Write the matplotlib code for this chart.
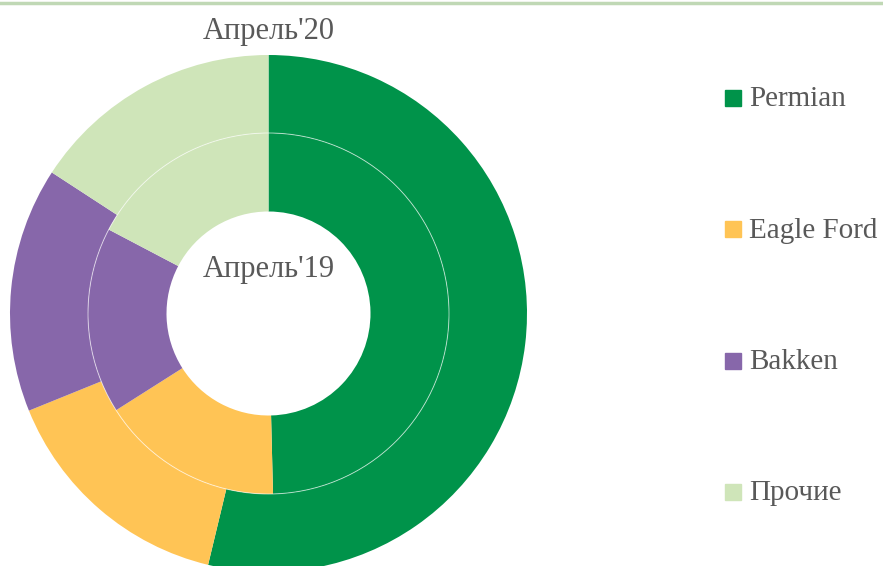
import matplotlib.pyplot as plt
from matplotlib.patches import Rectangle, Circle
from matplotlib.lines import Line2D

# данные
labels = ['Permian', 'Eagle Ford', 'Bakken', 'Прочие']
apr19 = [49.6, 16.4, 16.7, 17.3]
apr20 = [53.7, 15.1, 15.3, 15.8]
colors = ['#00934A', '#FFC455', '#8767AA', '#CFE5B9']
txt = '#595959'

plt.rcParams['font.family'] = ['Liberation Serif', 'DejaVu Serif']

W, H = 883, 566
fig = plt.figure(figsize=(W / 100, H / 100), dpi=100)
ax = fig.add_axes([0, 0, 1, 1])

# центр кольца в пикселях
cx, cy = 268.5, 313.5
r_out, r_mid, r_in = 258.5, 180.5, 102

ax.pie(apr20, colors=colors, radius=r_out, startangle=90, counterclock=False,
       wedgeprops=dict(width=r_out - r_mid, edgecolor='none'))
ax.pie(apr19, colors=colors, radius=r_mid, startangle=90, counterclock=False,
       wedgeprops=dict(width=r_mid - r_in, edgecolor='none'))
ax.add_patch(Circle((0, 0), r_mid, fill=False, edgecolor='white', linewidth=0.7, alpha=0.6))
ax.set_xlim(-cx, W - cx)
ax.set_ylim(-(H - cy), cy)
ax.set_aspect('equal')
ax.axis('off')

ax.text(0, cy - 31, "Апрель'20", ha='center', va='center', fontsize=22, color=txt)
ax.text(0, cy - 270, "Апрель'19", ha='center', va='center', fontsize=22, color=txt)

# легенда
leg_y = [97.5, 229, 360.5, 492]
for lab, col, y in zip(labels, colors, leg_y):
    fig.patches.append(Rectangle((725 / W, 1 - (y + 8) / H), 16 / W, 16 / H,
                                 transform=fig.transFigure, color=col))
    fig.text(749 / W, 1 - (y + 1.5) / H, lab, ha='left', va='center', fontsize=21, color=txt)

# линия сверху
fig.add_artist(Line2D([0, 1], [1 - 3.2 / H, 1 - 3.2 / H], transform=fig.transFigure,
                      color='#C0D8B5', linewidth=2.5))

fig.savefig('out.png', dpi=100)
